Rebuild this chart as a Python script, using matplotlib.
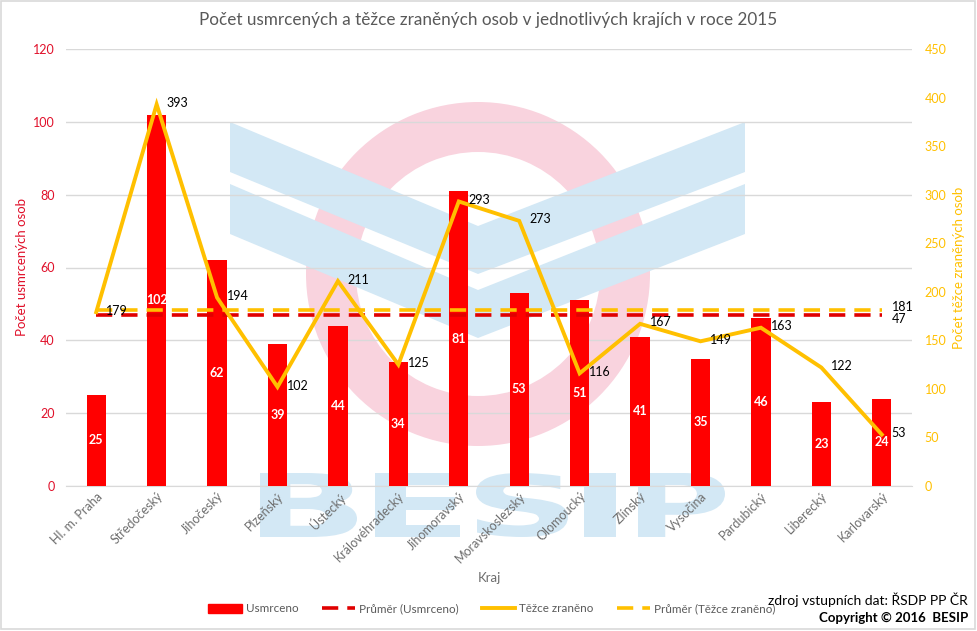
import matplotlib
matplotlib.use("Agg")
import matplotlib.pyplot as plt
from matplotlib.patches import Wedge, Polygon, Rectangle, PathPatch
from matplotlib.lines import Line2D
from matplotlib.textpath import TextPath
from matplotlib.font_manager import FontProperties
from matplotlib.transforms import Affine2D
import numpy as np

plt.rcParams['font.family'] = ['Lato', 'DejaVu Sans']

kraje = ["Hl. m. Praha", "Středočeský", "Jihočeský", "Plzeňský", "Ústecký",
         "Královéhradecký", "Jihomoravský", "Moravskoslezský", "Olomoucký",
         "Zlínský", "Vysočina", "Pardubický", "Liberecký", "Karlovarský"]
usmrceno = [25, 102, 62, 39, 44, 34, 81, 53, 51, 41, 35, 46, 23, 24]
tezce = [179, 393, 194, 102, 211, 125, 293, 273, 116, 167, 149, 163, 122, 53]
prumer_usmrceno = 47
prumer_tezce = 181

RED = '#ff0000'
GOLD = '#ffc000'
TICKRED = '#e0102a'
GRAY = '#595959'
XGRAY = '#6e6e6e'

W, H = 977, 631
fig = plt.figure(figsize=(W / 100, H / 100), dpi=100)

# background watermark axes in pixel coordinates
bg = fig.add_axes([0, 0, 1, 1], zorder=0)
bg.set_xlim(0, W)
bg.set_ylim(H, 0)
bg.axis('off')
bg.add_patch(Rectangle((1, 1), W - 3, H - 3, fill=False, ec='#d9d9d9', lw=1.2))
PINK = '#f9d3de'
LBLUE = '#d3e8f5'
bg.add_patch(Wedge((478, 274), 172, 0, 360, width=50, color=PINK, lw=0))
bg.add_patch(Polygon([(230, 122), (478, 226), (745, 122), (745, 172), (478, 274), (230, 172)],
                     closed=True, color=LBLUE, lw=0))
bg.add_patch(Polygon([(230, 184), (478, 290), (745, 184), (745, 234), (478, 338), (230, 234)],
                     closed=True, color=LBLUE, lw=0))
fp = FontProperties(family='DejaVu Sans', weight='bold')
letter_boxes = [("B", 260, 357), ("E", 375, 460), ("S", 476, 568), ("I", 584, 616), ("P", 638, 725)]
top, bot = 473, 537
for ch, x0, x1 in letter_boxes:
    tp = TextPath((0, 0), ch, size=100, prop=fp)
    ext = tp.get_extents()
    sx = (x1 - x0) / ext.width
    sy = (bot - top) / ext.height
    tr = Affine2D().translate(-ext.x0, -ext.y0).scale(sx, -sy).translate(x0, bot)
    bg.add_patch(PathPatch(tr.transform_path(tp), color=LBLUE, lw=0))

ax = fig.add_axes([66 / W, 1 - 486 / H, (912 - 66) / W, (486 - 49) / H], zorder=1)
ax.patch.set_alpha(0)
ax2 = ax.twinx()

x = np.arange(len(kraje))
ax.bar(x, usmrceno, width=0.32, color=RED, zorder=3)
for xi, v in zip(x, usmrceno):
    ax.text(xi, v / 2, str(v), color='white', fontweight='bold', fontsize=9,
            ha='center', va='center', zorder=4)
ax.plot([x[0], x[-1]], [prumer_usmrceno] * 2, color='#e00000', lw=2.6,
        dashes=(4.5, 2.5), zorder=4)
ax.set_ylim(0, 120)
ax.set_yticks(range(0, 121, 20))
ax.set_xlim(-0.5, len(kraje) - 0.5)
ax.grid(axis='y', color='#d9d9d9', lw=1, zorder=0)
ax.set_axisbelow(True)
ax.tick_params(axis='y', colors=TICKRED, labelsize=9, length=0, pad=8)
ax.tick_params(axis='x', colors=XGRAY, labelsize=9, length=0, pad=3)
ax.set_xticks(x)
ax.set_xticklabels(kraje, rotation=45, ha='right', rotation_mode='anchor')
for s in ax.spines.values():
    s.set_visible(False)
ax.spines['bottom'].set_visible(True)
ax.spines['bottom'].set_color('#d9d9d9')
ax.set_ylabel("Počet usmrcených osob", color=TICKRED, fontsize=9.5, labelpad=4)
ax.set_xlabel("Kraj", color=XGRAY, fontsize=9.5, labelpad=5)

ax2.plot(x, tezce, color=GOLD, lw=2.8, zorder=5, solid_joinstyle='miter')
ax2.plot([x[0], x[-1]], [prumer_tezce] * 2, color=GOLD, lw=2.6,
         dashes=(4.5, 2.5), zorder=4)
for xi, v in zip(x, tezce):
    ax2.annotate(str(v), (xi, v), xytext=(7, 1), textcoords='offset points',
                 fontsize=9, color='black', ha='left', va='center', zorder=6)
ax2.annotate(str(prumer_tezce), (x[-1], prumer_tezce), xytext=(7, 2), textcoords='offset points',
             fontsize=9, color='black', ha='left', va='center')
ax.annotate(str(prumer_usmrceno), (x[-1], prumer_usmrceno), xytext=(7, -3), textcoords='offset points',
            fontsize=9, color='black', ha='left', va='center')
ax2.set_ylim(0, 450)
ax2.set_yticks(range(0, 451, 50))
ax2.tick_params(axis='y', colors=GOLD, labelsize=9, length=0, pad=9)
for s in ax2.spines.values():
    s.set_visible(False)
ax2.set_ylabel("Počet těžce zraněných osob", color=GOLD, fontsize=9.5, labelpad=5)

fig.text(488 / W, 1 - 20 / H, "Počet usmrcených a těžce zraněných osob v jednotlivých krajích v roce 2015",
         ha='center', va='center', fontsize=12.3, color=GRAY)

handles = [Rectangle((0, 0), 1, 1, color=RED),
           Line2D([], [], color='#e00000', lw=2.6, dashes=(4.5, 2.5)),
           Line2D([], [], color=GOLD, lw=2.8),
           Line2D([], [], color=GOLD, lw=2.6, dashes=(4.5, 2.5))]
labels = ["Usmrceno", "Průměr (Usmrceno)", "Těžce zraněno", "Průměr (Těžce zraněno)"]
fig.legend(handles, labels, loc='center', bbox_to_anchor=(492 / W, 1 - 609 / H), ncol=4,
           frameon=False, fontsize=8.4, labelcolor=GRAY, handlelength=2.85,
           columnspacing=2.0, handletextpad=0.35)

fig.text(968 / W, 1 - 600 / H, "zdroj vstupních dat: ŘSDP PP ČR", ha='right', va='center',
         fontsize=10, color='black')
fig.text(968 / W, 1 - 618 / H, "Copyright © 2016  BESIP", ha='right', va='center',
         fontsize=9.5, color='black', fontweight='bold')

fig.savefig("out.png", dpi=100)
